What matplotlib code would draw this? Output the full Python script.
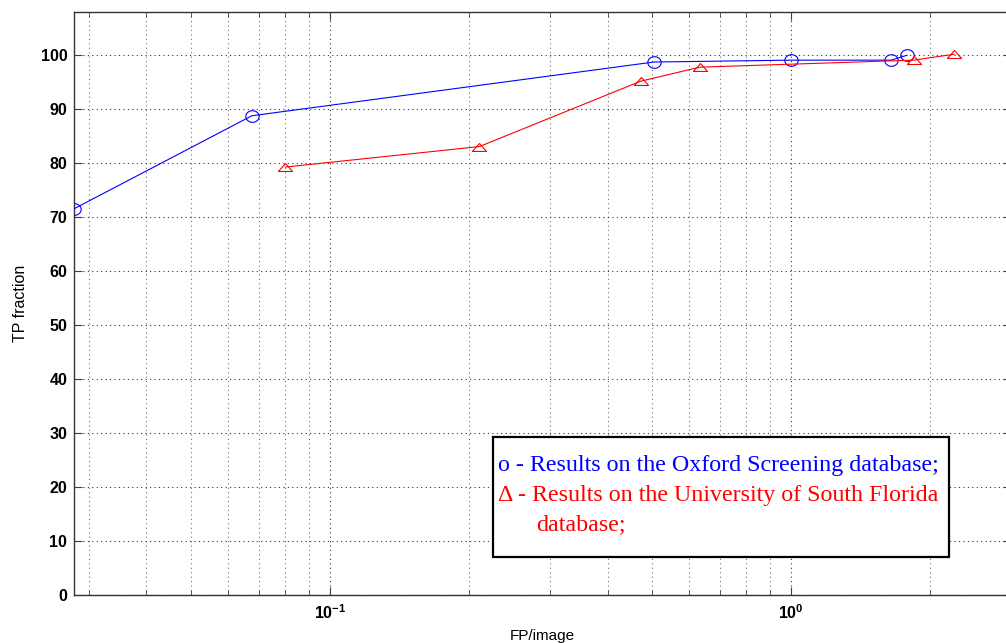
import numpy as np
import matplotlib
matplotlib.use("Agg")
import matplotlib.pyplot as plt
from matplotlib.patches import Rectangle
from matplotlib.ticker import FixedLocator, NullFormatter

# Oxford Screening database
oxford_fp = [0.0279, 0.0677, 0.504, 1.0, 1.647, 1.784]
oxford_tp = [71.6, 88.8, 98.75, 99.1, 99.1, 100.0]

# University of South Florida database
usf_fp = [0.080, 0.211, 0.472, 0.634, 1.845, 2.26]
usf_tp = [79.3, 83.1, 95.2, 97.8, 99.1, 100.2]

y_ticks = [0, 10, 20, 30, 40, 50, 60, 70, 80, 90, 100]
x_major = [0.1, 1.0]
x_major_labels = [r"$\mathbf{10^{-1}}$", r"$\mathbf{10^{0}}$"]
x_minor = [0.03, 0.04, 0.05, 0.06, 0.07, 0.08, 0.09,
           0.2, 0.3, 0.4, 0.5, 0.6, 0.7, 0.8, 0.9, 2.0, 3.0]

plt.rcParams["font.family"] = ["Liberation Sans", "DejaVu Sans"]
plt.rcParams["mathtext.fontset"] = "custom"
plt.rcParams["mathtext.rm"] = "Liberation Sans"
plt.rcParams["mathtext.bf"] = "Liberation Sans:bold"

W, H = 1006, 643
fig = plt.figure(figsize=(W / 100, H / 100), dpi=100)

left_px, right_px, top_px, bottom_px = 74.3, 1011.0, 12.3, 595.3
ax = fig.add_axes([left_px / W, (H - bottom_px) / H,
                   (right_px - left_px) / W, (bottom_px - top_px) / H])

# slightly wide markers
t = np.linspace(0, 2 * np.pi, 64)
ellipse = list(zip(np.cos(t), 0.87 * np.sin(t)))
tri = [(-1.0, -0.56), (1.0, -0.56), (0.0, 0.56), (-1.0, -0.56)]

ax.plot(oxford_fp, oxford_tp, color=(0, 0, 1), lw=0.8,
        marker=ellipse, markersize=9.6, markerfacecolor="none",
        markeredgecolor=(0, 0, 1), markeredgewidth=0.8, zorder=3)
ax.plot(usf_fp, usf_tp, color=(1, 0, 0), lw=0.8,
        marker=tri, markersize=10.2, markerfacecolor="none",
        markeredgecolor=(1, 0, 0), markeredgewidth=0.8, zorder=3)

ax.set_xscale("log")
ax.set_xlim(0.0279, 3.0)
ax.set_ylim(0, 107.96)

ax.set_yticks(y_ticks)
ax.set_yticklabels([str(v) for v in y_ticks], fontsize=11.5, fontweight="bold")
ax.set_xticks(x_major, labels=x_major_labels, fontsize=11.5)
ax.xaxis.set_minor_locator(FixedLocator(x_minor))
ax.xaxis.set_minor_formatter(NullFormatter())

ax.tick_params(axis="both", which="major", direction="in", length=6,
               width=0.8, top=True, right=True, color="0.25")
ax.tick_params(axis="x", which="minor", direction="in", length=3.5,
               width=0.6, top=True, color="0.25")
ax.tick_params(axis="y", pad=5)
ax.tick_params(axis="x", pad=6)

dots = (0, (1, 3))
ax.grid(True, which="major", axis="both", color="0.2", lw=0.8, linestyle=dots)
ax.grid(True, which="minor", axis="x", color="0.45", lw=0.8, linestyle=dots)
ax.set_axisbelow(True)

for s in ax.spines.values():
    s.set_color("0.2")
    s.set_linewidth(1.0)

ax.set_xlabel("FP/image", fontsize=11, labelpad=5)
ax.set_ylabel("TP fraction", fontsize=11.5, labelpad=9)

# annotation box
bx0, by0, bx1, by1 = 492.7, 436.7, 949.3, 556.7
fig.add_artist(Rectangle((bx0 / W, (H - by1) / H), (bx1 - bx0) / W,
                         (by1 - by0) / H, transform=fig.transFigure,
                         facecolor="white", edgecolor="black", lw=1.6,
                         zorder=5))
serif = ["Liberation Serif", "DejaVu Serif"]
fs = 17.3
fig.text(498 / W, (H - 470.5) / H, "o - Results on the Oxford Screening database;",
         color=(0, 0, 1), fontsize=fs, family=serif, va="baseline", zorder=6)
fig.text(498 / W, (H - 500.7) / H, "\u0394 - Results on the University of South Florida",
         color=(1, 0, 0), fontsize=fs, family=serif, va="baseline", zorder=6)
fig.text(536 / W, (H - 530) / H, "database;",
         color=(1, 0, 0), fontsize=fs, family=serif, va="baseline", zorder=6)

fig.savefig("out.png", dpi=100)
